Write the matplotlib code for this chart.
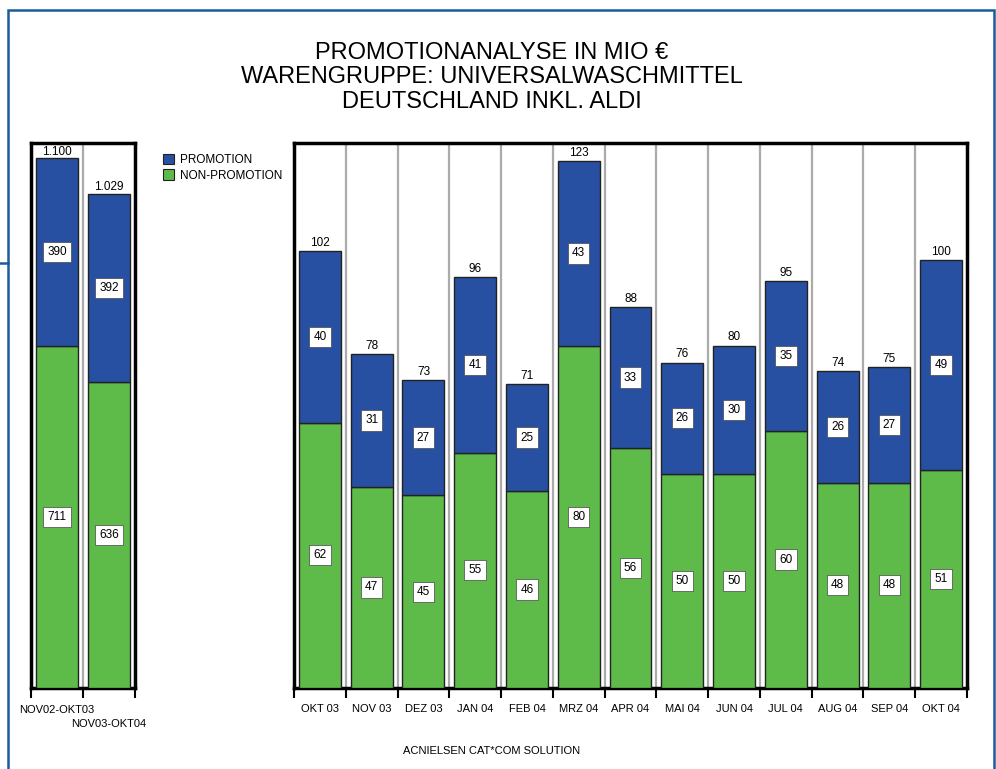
import matplotlib.pyplot as plt
from matplotlib.patches import Patch, Rectangle
from matplotlib.lines import Line2D

plt.rcParams['font.family'] = ['Liberation Sans', 'DejaVu Sans']

# Jahreswerte
jahre = ['NOV02-OKT03', 'NOV03-OKT04']
jahr_promo = [390, 392]
jahr_non = [711, 636]
jahr_total = ['1.100', '1.029']

# Monatswerte
monate = ['OKT 03', 'NOV 03', 'DEZ 03', 'JAN 04', 'FEB 04', 'MRZ 04', 'APR 04',
          'MAI 04', 'JUN 04', 'JUL 04', 'AUG 04', 'SEP 04', 'OKT 04']
monat_promo = [40, 31, 27, 41, 25, 43, 33, 26, 30, 35, 26, 27, 49]
monat_non = [62, 47, 45, 55, 46, 80, 56, 50, 50, 60, 48, 48, 51]
monat_total = [102, 78, 73, 96, 71, 123, 88, 76, 80, 95, 74, 75, 100]

BLAU = '#2750a2'
GRUEN = '#5ebb4a'
W, H = 996, 769

fig = plt.figure(figsize=(W / 100, H / 100), dpi=100)


def px_axes(x0, y0, x1, y1):
    return fig.add_axes([x0 / W, 1 - y1 / H, (x1 - x0) / W, (y1 - y0) / H])


def box_label(ax, x, y, txt):
    ax.text(x, y, txt, ha='center', va='center', fontsize=8.5,
            bbox=dict(boxstyle='square,pad=0.35', fc='white', ec='#444444', lw=0.5))


def panel(ax, names, promo, non, totals, ymax, width, off):
    n = len(names)
    x = list(range(n))
    ax.bar(x, non, width, color=GRUEN, edgecolor='#222222', linewidth=1.0, zorder=3)
    ax.bar(x, promo, width, bottom=non, color=BLAU, edgecolor='#222222', linewidth=1.0, zorder=3)
    for i in x:
        box_label(ax, i, non[i] / 2, str(non[i]))
        box_label(ax, i, non[i] + promo[i] / 2, str(promo[i]))
        ax.text(i, non[i] + promo[i] + off, str(totals[i]), ha='center', va='bottom', fontsize=8.5)
    for b in range(n - 1):
        ax.axvline(b + 0.5, color='#ababab', lw=1.6, zorder=1)
    ax.set_xlim(-0.5, n - 0.5)
    ax.set_ylim(0, ymax)
    ax.set_yticks([])
    ax.set_xticks([b - 0.5 for b in range(n + 1)])
    ax.set_xticklabels([])
    ax.tick_params(axis='x', direction='out', length=7, width=1.5)
    for s in ax.spines.values():
        s.set_linewidth(2.5)


ax1 = px_axes(31, 143, 135, 688)
panel(ax1, jahre, jahr_promo, jahr_non, jahr_total, 1133, 0.79, 1)
ax1.text(0, -0.032, jahre[0], transform=ax1.get_xaxis_transform(), ha='center', va='top', fontsize=8)
ax1.text(1, -0.057, jahre[1], transform=ax1.get_xaxis_transform(), ha='center', va='top', fontsize=8)

ax2 = px_axes(294, 143, 967, 688)
panel(ax2, monate, monat_promo, monat_non, monat_total, 127.3, 0.81, 0.5)
for i, m in enumerate(monate):
    ax2.text(i, -0.03, m, transform=ax2.get_xaxis_transform(), ha='center', va='top', fontsize=8)

fig.legend(handles=[Patch(fc=BLAU, ec='#222222', lw=0.8), Patch(fc=GRUEN, ec='#222222', lw=0.8)],
           labels=['PROMOTION', 'NON-PROMOTION'], loc='upper left',
           bbox_to_anchor=(152 / W, 1 - 143 / H), frameon=False, fontsize=8.5,
           handlelength=1.0, handleheight=1.0, handletextpad=0.5, labelspacing=0.3)

fig.text(492 / W, 1 - 53 / H, 'PROMOTIONANALYSE IN MIO €', ha='center', va='center', fontsize=17)
fig.text(492 / W, 1 - 77 / H, 'WARENGRUPPE: UNIVERSALWASCHMITTEL', ha='center', va='center', fontsize=17)
fig.text(492 / W, 1 - 102 / H, 'DEUTSCHLAND INKL. ALDI', ha='center', va='center', fontsize=17)
fig.text(492 / W, 1 - 751 / H, 'ACNIELSEN CAT*COM SOLUTION', ha='center', va='center', fontsize=8)

# blauer Rahmen
rahmen = '#1d5c9c'
fig.add_artist(Rectangle((8 / W, -0.05), (994 - 8) / W, 1.05 - 10 / H, transform=fig.transFigure,
                         fill=False, ec=rahmen, lw=1.8))
fig.add_artist(Line2D([0, 8 / W], [1 - 263 / H] * 2, transform=fig.transFigure, color=rahmen, lw=1.8))

fig.savefig('out.png', dpi=100)
